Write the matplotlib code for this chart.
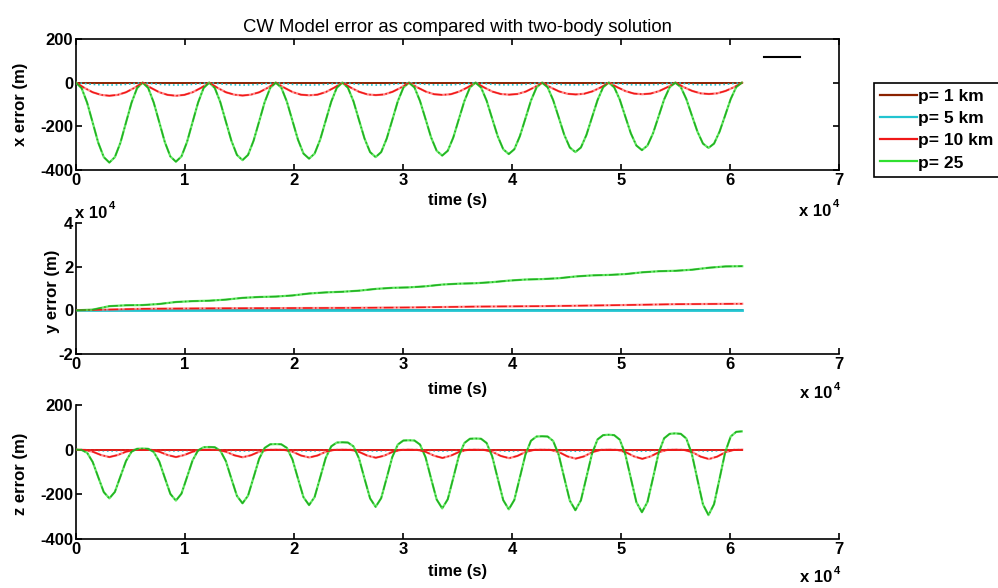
import matplotlib
matplotlib.use("Agg")
import matplotlib.pyplot as plt
from matplotlib.lines import Line2D
from matplotlib.ticker import FixedLocator, FuncFormatter

plt.rcParams['font.family'] = ['Liberation Sans', 'DejaVu Sans']
plt.rcParams['axes.unicode_minus'] = False

# ---- data (time in s, errors in m) ----
# fine time grid (12 samples per orbit) for the large p=25 curves
t_fine = [0, 509, 1018, 1527, 2036, 2545, 3054, 3563, 4072, 4581, 5090, 5599,
          6108, 6617, 7126, 7635, 8144, 8653, 9162, 9671, 10180, 10689, 11198, 11707,
          12216, 12725, 13234, 13743, 14252, 14761, 15270, 15779, 16288, 16797, 17306, 17815,
          18324, 18833, 19342, 19851, 20360, 20869, 21378, 21887, 22396, 22905, 23414, 23923,
          24432, 24941, 25450, 25959, 26468, 26977, 27486, 27995, 28504, 29013, 29522, 30031,
          30540, 31049, 31558, 32067, 32576, 33085, 33594, 34103, 34612, 35121, 35630, 36139,
          36648, 37157, 37666, 38175, 38684, 39193, 39702, 40211, 40720, 41229, 41738, 42247,
          42756, 43265, 43774, 44283, 44792, 45301, 45810, 46319, 46828, 47337, 47846, 48355,
          48864, 49373, 49882, 50391, 50900, 51409, 51918, 52427, 52936, 53445, 53954, 54463,
          54972, 55481, 55990, 56499, 57008, 57517, 58026, 58535, 59044, 59553, 60062, 60571,
          61080]

# coarser grid (8 samples per orbit) for the small curves
t = [0, 764, 1528, 2292, 3056, 3820, 4584, 5348,
     6112, 6876, 7640, 8404, 9168, 9932, 10696, 11460,
     12224, 12988, 13752, 14516, 15280, 16044, 16808, 17572,
     18336, 19100, 19864, 20628, 21392, 22156, 22920, 23684,
     24448, 25212, 25976, 26740, 27504, 28268, 29032, 29796,
     30560, 31324, 32088, 32852, 33616, 34380, 35144, 35908,
     36672, 37436, 38200, 38964, 39728, 40492, 41256, 42020,
     42784, 43548, 44312, 45076, 45840, 46604, 47368, 48132,
     48896, 49660, 50424, 51188, 51952, 52716, 53480, 54244,
     55008, 55772, 56536, 57300, 58064, 58828, 59592, 60356,
     61120]

# x error
x_p1 = [0, 0]
x_p5 = [0, -4, -8, -10, -11, -10, -8, -4,
        0, -4, -8, -10, -11, -10, -8, -4,
        0, -4, -8, -10, -11, -10, -8, -4,
        0, -4, -8, -10, -11, -10, -8, -4,
        0, -4, -8, -10, -11, -10, -8, -4,
        0, -4, -8, -10, -11, -10, -8, -4,
        0, -4, -8, -10, -10, -10, -8, -4,
        0, -4, -8, -10, -10, -10, -8, -4,
        0, -4, -8, -10, -10, -10, -8, -4,
        0, -4, -8, -10, -10, -10, -8, -4,
        0]
x_p10 = [0, -24, -44, -56, -60, -56, -44, -24,
         0, -24, -44, -56, -60, -56, -44, -24,
         0, -24, -44, -55, -59, -55, -44, -24,
         0, -23, -43, -55, -58, -55, -43, -23,
         0, -23, -42, -54, -57, -54, -42, -23,
         0, -22, -41, -53, -56, -53, -41, -22,
         0, -22, -41, -52, -55, -52, -41, -22,
         0, -22, -40, -51, -54, -51, -40, -22,
         0, -21, -39, -50, -53, -50, -39, -21,
         0, -21, -38, -49, -52, -49, -38, -21,
         0]
x_p25 = [0, -25, -92, -183, -275, -341, -366, -341, -275, -183, -92, -25,
         0, -24, -91, -181, -272, -338, -362, -338, -272, -181, -91, -24,
         0, -24, -89, -178, -266, -331, -355, -331, -266, -178, -89, -24,
         0, -23, -87, -174, -261, -325, -348, -325, -261, -174, -87, -23,
         0, -23, -85, -171, -256, -318, -341, -318, -256, -171, -85, -23,
         0, -22, -84, -167, -251, -312, -334, -312, -251, -167, -84, -22,
         0, -22, -82, -164, -245, -305, -327, -305, -245, -164, -82, -22,
         0, -21, -80, -159, -239, -297, -318, -297, -239, -159, -80, -21,
         0, -21, -77, -155, -232, -288, -309, -288, -232, -155, -77, -21,
         0, -20, -75, -150, -224, -279, -299, -279, -224, -150, -75, -20,
         0]

# y error (coarser samples)
t_y = [0, 1528, 3056, 4584, 6112, 7640, 9168, 10696, 12224, 13752,
       15280, 16808, 18336, 19864, 21392, 22920, 24448, 25976, 27504, 29032,
       30560, 32088, 33616, 35144, 36672, 38200, 39728, 41256, 42784, 44312,
       45840, 47368, 48896, 50424, 51952, 53480, 55008, 56536, 58064, 59592,
       61120]
y_p25 = [0, 300, 1900, 2300, 2400, 2900, 3800, 4200, 4400, 4900,
         5700, 6100, 6300, 6800, 7700, 8200, 8500, 9000, 9800, 10300,
         10500, 11000, 11800, 12200, 12400, 12900, 13600, 14100, 14300, 14700,
         15500, 16000, 16200, 16600, 17400, 17900, 18100, 18600, 19500, 20100,
         20200]
t_y_orbit = [0, 6112, 12224, 18336, 24448, 30560, 36672, 42784, 48896, 55008, 61120]
y_p10 = [0, 700, 900, 1000, 1100, 1300, 1700, 1900, 2300, 2800, 3000]
y_p5 = [0, 0]
y_p1 = [0, 0]

# z error
z_p1 = [0, 0]
z_p5 = [0, 0, -2, -5, -6, -5, -2, 0,
        0, 0, -2, -5, -6, -5, -2, 0,
        0, 0, -2, -5, -6, -5, -2, 0,
        0, 0, -2, -5, -6, -5, -2, 0,
        0, 0, -2, -5, -6, -5, -2, 0,
        0, 0, -2, -5, -6, -5, -2, 0,
        0, 0, -2, -5, -7, -5, -2, 0,
        0, 0, -2, -5, -7, -5, -2, 0,
        0, 0, -2, -5, -7, -5, -2, 0,
        0, 0, -2, -5, -7, -5, -2, 0,
        0]
z_p10 = [0, -1, -9, -24, -33, -24, -9, -1,
         0, -1, -9, -24, -33, -24, -9, -1,
         0, -1, -9, -25, -34, -25, -9, -1,
         0, -1, -9, -26, -35, -26, -9, -1,
         0, -1, -10, -27, -36, -27, -10, -1,
         0, -1, -10, -27, -37, -27, -10, -1,
         0, -1, -10, -28, -38, -28, -10, -1,
         0, -1, -11, -30, -40, -30, -11, -1,
         0, -1, -11, -30, -41, -30, -11, -1,
         0, -1, -11, -31, -42, -31, -11, -1,
         0]
z_p25 = [0, -1, -14, -55, -123, -190, -218, -189, -120, -51, -9, 4,
         5, 4, -10, -53, -126, -198, -228, -197, -123, -48, -3, 11,
         12, 11, -4, -51, -130, -207, -240, -206, -124, -41, 8, 24,
         25, 24, 8, -43, -129, -213, -248, -212, -125, -37, 15, 32,
         33, 32, 15, -39, -130, -218, -256, -217, -126, -33, 23, 41,
         42, 41, 23, -34, -130, -223, -263, -222, -126, -28, 30, 49,
         50, 49, 30, -29, -128, -226, -267, -225, -124, -22, 40, 59,
         60, 59, 39, -23, -126, -228, -271, -227, -123, -18, 46, 65,
         67, 65, 45, -20, -128, -235, -280, -234, -126, -15, 51, 71,
         73, 71, 50, -19, -133, -245, -293, -244, -129, -12, 59, 80,
         82]

labels = ['p= 1 km', 'p= 5 km', 'p= 10 km', 'p= 25']
col_p1 = '#8b2200'
col_p5 = '#22c4d0'
col_p10 = '#f01818'
col_p25 = '#30e030'

t_ends = [t[0], t[-1]]

fig = plt.figure(figsize=(9.98, 5.88), dpi=100)
ax1 = fig.add_axes([0.0762, 0.7109, 0.7645, 0.2228])
ax2 = fig.add_axes([0.0762, 0.3980, 0.7645, 0.2228])
ax3 = fig.add_axes([0.0762, 0.0833, 0.7645, 0.2279])


def draw(ax, tt, v, color, dark, style='-.'):
    # light base line with darker dash-dot on top (looks like the scanned plot)
    ax.plot(tt, v, color=color, lw=1.6, alpha=0.75, zorder=3)
    ax.plot(tt, v, color=dark, lw=1.1, ls=style, zorder=4)


# x error
ax1.plot(t_ends, x_p1, color=col_p1, lw=1.4, zorder=2)
ax1.plot(t, x_p5, color=col_p5, lw=1.2, ls=':', zorder=2)
draw(ax1, t, x_p10, '#ff6060', col_p10)
draw(ax1, t_fine, x_p25, col_p25, '#22b022')

# y error
ax2.plot(t_ends, y_p1, color=col_p1, lw=1.4, zorder=2)
ax2.plot(t_ends, y_p5, color=col_p5, lw=2.0, zorder=2)
draw(ax2, t_y_orbit, y_p10, '#ff7070', col_p10)
draw(ax2, t_y, y_p25, col_p25, '#22b022')

# z error
ax3.plot(t_ends, z_p1, color=col_p1, lw=1.4, zorder=2)
ax3.plot(t, z_p5, color=col_p5, lw=1.2, ls=':', zorder=2)
draw(ax3, t, z_p10, '#ff6060', col_p10)
ax3.plot(t_ends, z_p1, color=col_p10, lw=1.2, zorder=3)
draw(ax3, t_fine, z_p25, col_p25, '#22b022')

tick_font = dict(fontsize=12, fontweight='bold')
xt = [0, 10000, 20000, 30000, 40000, 50000, 60000, 70000]
fmt4 = FuncFormatter(lambda v, p: f"{v / 1e4:g}")

for ax in (ax1, ax2, ax3):
    ax.set_xlim(0, 70000)
    ax.xaxis.set_major_locator(FixedLocator(xt))
    ax.xaxis.set_major_formatter(fmt4)
    for s in ax.spines.values():
        s.set_linewidth(1.2)
    ax.tick_params(direction='in', length=4, width=1.2, pad=2,
                   labelsize=12)
    ax.set_xlabel('time (s)', **tick_font)

ax1.tick_params(top=True, right=True)
for ax in (ax2, ax3):
    ax.spines['top'].set_visible(False)
    ax.spines['right'].set_visible(False)

ax1.set_ylim(-400, 200)
ax1.set_yticks([-400, -200, 0, 200])
ax3.set_ylim(-400, 200)
ax3.set_yticks([-400, -200, 0, 200])
ax2.set_ylim(-20000, 40000)
ax2.yaxis.set_major_locator(FixedLocator([-20000, 0, 20000, 40000]))
ax2.yaxis.set_major_formatter(fmt4)
for ax in (ax1, ax2, ax3):
    for lab in ax.get_xticklabels() + ax.get_yticklabels():
        lab.set_fontweight('bold')

ax1.set_ylabel('x error (m)', **tick_font)
ax2.set_ylabel('y error (m)', **tick_font)
ax3.set_ylabel('z error (m)', **tick_font)
ax1.yaxis.set_label_coords(-0.063, 0.5)
ax2.yaxis.set_label_coords(-0.021, 0.48)
ax3.yaxis.set_label_coords(-0.063, 0.49)
ax1.xaxis.set_label_coords(0.5, -0.176)
ax2.xaxis.set_label_coords(0.5, -0.214)
ax3.xaxis.set_label_coords(0.5, -0.187)

ax1.set_title('CW Model error as compared with two-body solution',
              fontsize=13.3, pad=5)


# "x 10^4" multipliers
def times_ten(x, y):
    fig.text(x / 998, 1 - y / 588, 'x 10', fontsize=12, fontweight='bold',
             ha='left', va='center')
    fig.text((x + 34) / 998, 1 - (y - 7) / 588, '4', fontsize=8,
             fontweight='bold', ha='left', va='center')


times_ten(799, 211)
times_ten(800, 394)
times_ten(800, 578)
times_ten(75, 213)

# stray empty legend entry in the top panel
ax1.legend(handles=[Line2D([], [], color='k', lw=1.5)], labels=[''],
           loc='center', bbox_to_anchor=(782 / 998, 1 - 58 / 588),
           bbox_transform=fig.transFigure, frameon=False,
           handlelength=2.2, handletextpad=0, fontsize=12)

handles = [Line2D([], [], color=c, lw=1.6) for c in (col_p1, col_p5, col_p10, col_p25)]
leg = fig.legend(handles, labels, loc='upper left',
                 bbox_to_anchor=(874 / 998, 1 - 83 / 588),
                 prop={'size': 12.5, 'weight': 'bold'}, handlelength=2.1,
                 handletextpad=0.1, labelspacing=0.4, borderpad=0.35,
                 borderaxespad=0, fancybox=False, framealpha=1)
leg.get_frame().set_edgecolor('black')
leg.get_frame().set_linewidth(1.2)

fig.savefig('out.png', dpi=100)
